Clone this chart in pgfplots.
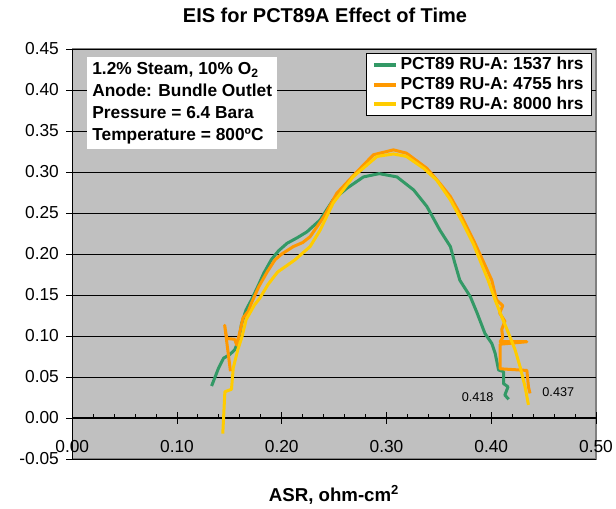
\documentclass[border=0pt]{standalone}
\usepackage{fontspec}
\setmainfont{Liberation Sans}
\usepackage{pgfplots}
\pgfplotsset{compat=1.18}

\definecolor{plotgray}{RGB}{192,192,192}
\definecolor{frame}{RGB}{128,128,128}
\definecolor{sgreen}{RGB}{51,153,102}
\definecolor{sorange}{RGB}{255,153,0}
\definecolor{syellow}{RGB}{255,204,0}

\begin{document}
\begin{tikzpicture}
\path[use as bounding box] (0,0) rectangle (462pt,381.75pt);

\begin{axis}[
    at={(54.2pt,37.5pt)}, anchor=south west,
    scale only axis, width=392.8pt, height=307.5pt,
    xmin=0, xmax=0.5, ymin=-0.05, ymax=0.45,
    axis x line=middle, axis y line=left,
    axis line style={-, black, line width=0.9pt},
    axis background/.style={fill=plotgray, draw=frame, line width=0.8pt},
    xtick={0,0.1,...,0.5}, ytick={-0.05,0,...,0.45},
    minor x tick num=4,
    tick align=center,
    major tick length=9pt, minor tick length=3pt,
    minor x tick style={yshift=1.5pt},
    tick style={black, line width=0.7pt},
    ymajorgrids, grid style={black, line width=0.7pt},
    /pgf/number format/.cd, fixed, fixed zerofill, precision=2, assume math mode=true,
    /pgfplots/.cd,
    tick label style={font=\fontsize{13}{15}\selectfont},
    xticklabel style={yshift=-9pt},
    yticklabel style={xshift=-2pt},
    legend style={at={(0.992,0.99)}, anchor=north east, draw=black, fill=white,
        font=\bfseries\fontsize{13}{13.4}\selectfont, row sep=0pt,
        inner xsep=4pt, inner ysep=1pt, cells={anchor=west}},
    legend image code/.code={\draw[#1, line width=3pt] (0pt,0pt) -- (16.5pt,0pt);},
    every axis plot/.append style={line width=2.25pt, line join=round},
]

\addplot[sgreen] coordinates {
(0.133,0.039) (0.1397,0.061) (0.1445,0.073) (0.150,0.077) (0.155,0.083)
(0.159,0.095) (0.1616,0.115) (0.166,0.132) (0.171,0.144) (0.177,0.160)
(0.183,0.177) (0.190,0.193) (0.197,0.204) (0.205,0.213) (0.215,0.220)
(0.224,0.227) (0.2366,0.2415) (0.249,0.266) (0.262,0.280) (0.278,0.294)
(0.293,0.298) (0.310,0.294) (0.326,0.278) (0.3385,0.258) (0.351,0.229)
(0.361,0.209) (0.365,0.190) (0.370,0.168) (0.380,0.148) (0.3865,0.128)
(0.394,0.103) (0.4005,0.091) (0.4037,0.079) (0.407,0.0585) (0.4117,0.0565)
(0.4117,0.042) (0.416,0.038) (0.413,0.028) (0.4166,0.0228)
};
\addlegendentry{PCT89 RU-A: 1537 hrs}

\addplot[sorange] coordinates {
(0.151,0.057) (0.1455,0.113) (0.1475,0.097) (0.155,0.096) (0.157,0.089)
(0.160,0.105) (0.163,0.122) (0.168,0.130) (0.171,0.140) (0.178,0.160)
(0.186,0.178) (0.1936,0.193) (0.200,0.200) (0.211,0.209) (0.220,0.214)
(0.227,0.221) (0.240,0.245) (0.2525,0.274) (0.2716,0.300) (0.2875,0.321)
(0.3066,0.327) (0.319,0.323) (0.3385,0.3045) (0.351,0.286) (0.361,0.270)
(0.372,0.245) (0.383,0.217) (0.392,0.192) (0.4005,0.168) (0.405,0.144)
(0.411,0.137) (0.408,0.128) (0.413,0.118) (0.410,0.108) (0.411,0.098)
(0.4085,0.093) (0.434,0.093) (0.4085,0.090) (0.4085,0.060) (0.434,0.058)
(0.4355,0.038) (0.437,0.030)
};
\addlegendentry{PCT89 RU-A: 4755 hrs}

\addplot[syellow] coordinates {
(0.1437,-0.019) (0.1457,0.032) (0.152,0.035) (0.1537,0.061) (0.158,0.083)
(0.162,0.099) (0.166,0.120) (0.174,0.138) (0.179,0.146) (0.187,0.163)
(0.196,0.178) (0.205,0.186) (0.2127,0.193) (0.227,0.209) (0.2366,0.229)
(0.249,0.262) (0.268,0.294) (0.291,0.319) (0.3066,0.322) (0.319,0.319)
(0.3355,0.3045) (0.348,0.290) (0.361,0.266) (0.372,0.240) (0.383,0.212)
(0.390,0.190) (0.397,0.168) (0.4037,0.144) (0.410,0.1235) (0.4166,0.103)
(0.4228,0.083) (0.4275,0.0626) (0.4323,0.038) (0.4355,0.016)
};
\addlegendentry{PCT89 RU-A: 8000 hrs}

\node[anchor=north west, fill=white, align=left, inner xsep=4pt, inner ysep=4pt,
      font=\bfseries\fontsize{13}{16.4}\selectfont]
  at (axis cs:0.0138,0.4406)
  {1.2\% Steam, 10\% O\textsubscript{2}\\Anode: Bundle Outlet\\Pressure = 6.4 Bara\\Temperature = 800ºC};
\node[font=\fontsize{9.5}{11}\selectfont] at (axis cs:0.387,0.026) {0.418};
\node[font=\fontsize{9.5}{11}\selectfont] at (axis cs:0.464,0.031) {0.437};
\end{axis}

\node[anchor=north, yshift=-13.5pt, font=\fontsize{13}{15}\selectfont] at (54.2pt,68.25pt) {0.00};
\node[font=\bfseries\fontsize{15}{17}\selectfont] at (243.75pt,370.1pt) {EIS for PCT89A Effect of Time};
\node[font=\bfseries\fontsize{14}{16}\selectfont] at (250.5pt,10.5pt) {ASR, ohm-cm\textsuperscript{2}};
\end{tikzpicture}
\end{document}
